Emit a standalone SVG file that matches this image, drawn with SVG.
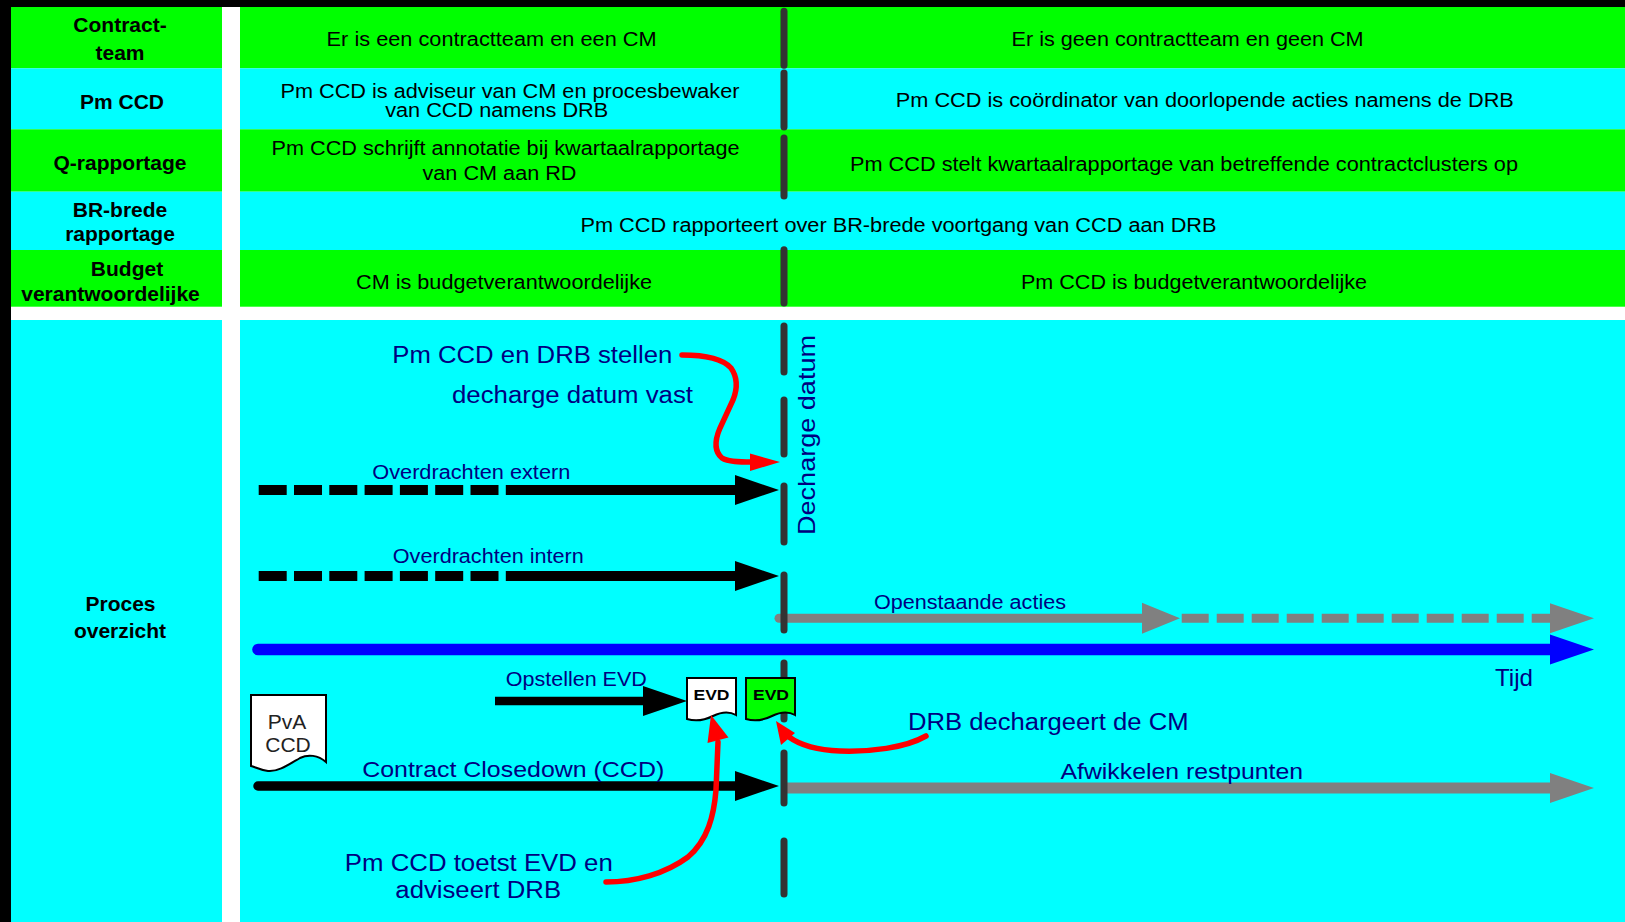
<svg xmlns="http://www.w3.org/2000/svg" width="1625" height="922" viewBox="0 0 1625 922">
<style>
.g{fill:#00FF00}
.c{fill:#00FFFF}
.lbl{font-family:"Liberation Sans",Arial,sans-serif;font-weight:bold;font-size:21px;fill:#000;text-anchor:middle}
.hd{font-family:"Liberation Sans",Arial,sans-serif;font-size:20px;fill:#000;text-anchor:middle}
.nv{font-family:"Liberation Sans",Arial,sans-serif;fill:#000080;text-anchor:middle}
.evd{font-family:"Liberation Sans",Arial,sans-serif;font-weight:bold;font-size:15px;fill:#000;text-anchor:middle}
.pva{font-family:"Liberation Sans",Arial,sans-serif;font-size:21px;fill:#222;text-anchor:middle}
.dv{stroke:#333;stroke-width:7;stroke-linecap:round}
.red{fill:none;stroke:#FF0000;stroke-width:5.5;stroke-linecap:round}
.doc{stroke:#000;stroke-width:2}
</style>
<defs>
<path id="ah" d="M0,-15 L44,0 L0,15 Z"/>
<path id="ahs" d="M0,-15.5 L38,0 L0,15.5 Z"/>
</defs>
<rect width="1625" height="922" fill="#fff"/>
<rect width="1625" height="7" fill="#000"/>
<rect width="11" height="922" fill="#000"/>

<g id="row-contractteam">
<rect class="g" x="11" y="7" width="211" height="61.3"/>
<rect class="g" x="240" y="7" width="1385" height="61.3"/>
<text class="lbl" x="120" y="32">Contract-</text>
<text class="lbl" x="120" y="59.5">team</text>
<text class="hd" x="491.6" y="46" textLength="330" lengthAdjust="spacingAndGlyphs">Er is een contractteam en een CM</text>
<text class="hd" x="1187.6" y="46" textLength="352" lengthAdjust="spacingAndGlyphs">Er is geen contractteam en geen CM</text>
</g>
<g id="row-pmccd">
<rect class="c" x="11" y="68.3" width="211" height="61"/>
<rect class="c" x="240" y="68.3" width="1385" height="61"/>
<text class="lbl" x="122" y="109">Pm CCD</text>
<text class="hd" x="510" y="97.5" textLength="459" lengthAdjust="spacingAndGlyphs">Pm CCD is adviseur van CM en procesbewaker</text>
<text class="hd" x="496.7" y="117.3" textLength="223" lengthAdjust="spacingAndGlyphs">van CCD namens DRB</text>
<text class="hd" x="1204.8" y="107" textLength="618" lengthAdjust="spacingAndGlyphs">Pm CCD is coördinator van doorlopende acties namens de DRB</text>
</g>
<g id="row-qrapportage">
<rect class="g" x="11" y="129.3" width="211" height="62.4"/>
<rect class="g" x="240" y="129.3" width="1385" height="62.4"/>
<text class="lbl" x="120" y="170">Q-rapportage</text>
<text class="hd" x="505.6" y="155" textLength="468" lengthAdjust="spacingAndGlyphs">Pm CCD schrijft annotatie bij kwartaalrapportage</text>
<text class="hd" x="499.5" y="180" textLength="154" lengthAdjust="spacingAndGlyphs">van CM aan RD</text>
<text class="hd" x="1184" y="171" textLength="668" lengthAdjust="spacingAndGlyphs">Pm CCD stelt kwartaalrapportage van betreffende contractclusters op</text>
</g>
<g id="row-brbrede">
<rect class="c" x="11" y="191.7" width="211" height="58.3"/>
<rect class="c" x="240" y="191.7" width="1385" height="58.3"/>
<text class="lbl" x="120" y="217">BR-brede</text>
<text class="lbl" x="120" y="241">rapportage</text>
<text class="hd" x="898.5" y="232" textLength="636" lengthAdjust="spacingAndGlyphs">Pm CCD rapporteert over BR-brede voortgang van CCD aan DRB</text>
</g>
<g id="row-budget">
<rect class="g" x="11" y="250" width="211" height="56.7"/>
<rect class="g" x="240" y="250" width="1385" height="56.7"/>
<text class="lbl" x="127" y="276">Budget</text>
<text class="lbl" x="110.5" y="301">verantwoordelijke</text>
<text class="hd" x="504" y="288.5" textLength="296" lengthAdjust="spacingAndGlyphs">CM is budgetverantwoordelijke</text>
<text class="hd" x="1194" y="288.5" textLength="346" lengthAdjust="spacingAndGlyphs">Pm CCD is budgetverantwoordelijke</text>
</g>
<g id="row-proces">
<rect class="c" x="11" y="320" width="211" height="602"/>
<rect class="c" x="240" y="320" width="1385" height="602"/>
<text class="lbl" x="120.5" y="611">Proces</text>
<text class="lbl" x="120" y="638">overzicht</text>
</g>

<g id="connectors">
<line x1="258.7" y1="490" x2="505.8" y2="490" stroke="#000" stroke-width="10" stroke-dasharray="28 7.3"/>
<line x1="505.8" y1="490" x2="737" y2="490" stroke="#000" stroke-width="10"/>
<use href="#ah" x="735" y="490" fill="#000"/>
<line x1="258.7" y1="576" x2="505.8" y2="576" stroke="#000" stroke-width="10" stroke-dasharray="28 7.3"/>
<line x1="505.8" y1="576" x2="737" y2="576" stroke="#000" stroke-width="10"/>
<use href="#ah" x="735" y="576" fill="#000"/>
<line x1="779" y1="618.3" x2="1144" y2="618.3" stroke="#808080" stroke-width="9" stroke-linecap="round"/>
<use href="#ahs" x="1142" y="618.3" fill="#808080"/>
<line x1="1181.7" y1="618.3" x2="1552" y2="618.3" stroke="#808080" stroke-width="9" stroke-dasharray="27 8"/>
<use href="#ah" x="1550" y="618.3" fill="#808080"/>
<line x1="258" y1="649.5" x2="1552" y2="649.5" stroke="#0000FF" stroke-width="11.5" stroke-linecap="round"/>
<use href="#ah" x="1550" y="649.5" fill="#0000FF"/>
<line x1="495" y1="701" x2="645" y2="701" stroke="#000" stroke-width="8.5"/>
<use href="#ah" x="643" y="701" fill="#000"/>
<line x1="258" y1="786" x2="737" y2="786" stroke="#000" stroke-width="9.5" stroke-linecap="round"/>
<use href="#ah" x="735" y="786" fill="#000"/>
<line x1="782" y1="788" x2="1552" y2="788" stroke="#808080" stroke-width="11"/>
<use href="#ah" x="1550" y="788" fill="#808080"/>
</g>

<g id="decharge-datum">
<line class="dv" x1="784" y1="11.3" x2="784" y2="65.3"/>
<line class="dv" x1="784" y1="73" x2="784" y2="127"/>
<line class="dv" x1="784" y1="138" x2="784" y2="196"/>
<line class="dv" x1="784" y1="249.7" x2="784" y2="303"/>
<line class="dv" x1="784" y1="326" x2="784" y2="372"/>
<line class="dv" x1="784" y1="400" x2="784" y2="454"/>
<line class="dv" x1="784" y1="486" x2="784" y2="542"/>
<line class="dv" x1="784" y1="575" x2="784" y2="630"/>
<line class="dv" x1="784" y1="663" x2="784" y2="719"/>
<line class="dv" x1="784" y1="753" x2="784" y2="803"/>
<line class="dv" x1="784" y1="841" x2="784" y2="894"/>
<text class="nv" font-size="24" transform="translate(815,435) rotate(-90)" x="0" y="0" textLength="200" lengthAdjust="spacingAndGlyphs">Decharge datum</text>
</g>

<g id="doc-pva">
<path class="doc" fill="#fff" d="M251,695 H326 V762 C318,755 308,754 300,758 C288,765 278,772 268,771 C260,770 255,767 251,766 Z"/>
<text class="pva" x="287" y="728.5">PvA</text>
<text class="pva" x="288" y="752">CCD</text>
</g>
<g id="doc-evd-white">
<path class="doc" fill="#fff" d="M687,678 H736 V715 C729,711 721,712 713,716 C705,720 697,722 687,719 Z"/>
<text class="evd" x="711.5" y="700" textLength="36" lengthAdjust="spacingAndGlyphs">EVD</text>
</g>
<g id="doc-evd-green">
<path class="doc" fill="#00FF00" d="M746,678 H795 V715 C788,711 780,712 772,716 C764,720 756,722 746,719 Z"/>
<text class="evd" x="771" y="700" textLength="36" lengthAdjust="spacingAndGlyphs">EVD</text>
</g>

<g id="red-arrows">
<path class="red" d="M682,355 C705,355 722,358 731,368 C738,378 737,390 733,400 L720,428 C714,442 715,452 722,458 C728,462 740,462 752,462"/>
<polygon fill="#FF0000" points="750,453.5 780,462 750,471"/>
<path class="red" d="M606,882 C635,882 665,874 688,857 C708,840 714,815 716,790 L718,742"/>
<polygon fill="#FF0000" points="711,715 728.5,737.5 707.5,743"/>
<path class="red" d="M926,736 C905,748 870,752 840,751 C815,750 800,745 789,737"/>
<polygon fill="#FF0000" points="776,721 795,733 781,745"/>
</g>

<g id="labels">
<text class="nv" font-size="23" x="532.3" y="363" textLength="280" lengthAdjust="spacingAndGlyphs">Pm CCD en DRB stellen</text>
<text class="nv" font-size="23" x="572.5" y="403" textLength="241" lengthAdjust="spacingAndGlyphs">decharge datum vast</text>
<text class="nv" font-size="20" x="471.3" y="479" textLength="198" lengthAdjust="spacingAndGlyphs">Overdrachten extern</text>
<text class="nv" font-size="20" x="488.3" y="563" textLength="191" lengthAdjust="spacingAndGlyphs">Overdrachten intern</text>
<text class="nv" font-size="20" x="970" y="609" textLength="192" lengthAdjust="spacingAndGlyphs">Openstaande acties</text>
<text class="nv" font-size="24" x="1514" y="686" textLength="38" lengthAdjust="spacingAndGlyphs">Tijd</text>
<text class="nv" font-size="20" x="576.3" y="686" textLength="141" lengthAdjust="spacingAndGlyphs">Opstellen EVD</text>
<text class="nv" font-size="23" x="1048.3" y="730" textLength="280.6" lengthAdjust="spacingAndGlyphs">DRB dechargeert de CM</text>
<text class="nv" font-size="22" x="1181.8" y="779" textLength="242.5" lengthAdjust="spacingAndGlyphs">Afwikkelen restpunten</text>
<text class="nv" font-size="22" x="513.2" y="777" textLength="302" lengthAdjust="spacingAndGlyphs">Contract Closedown (CCD)</text>
<text class="nv" font-size="23" x="478.8" y="871" textLength="268" lengthAdjust="spacingAndGlyphs">Pm CCD toetst EVD en</text>
<text class="nv" font-size="23" x="478.2" y="898" textLength="165.7" lengthAdjust="spacingAndGlyphs">adviseert DRB</text>
</g>
</svg>
